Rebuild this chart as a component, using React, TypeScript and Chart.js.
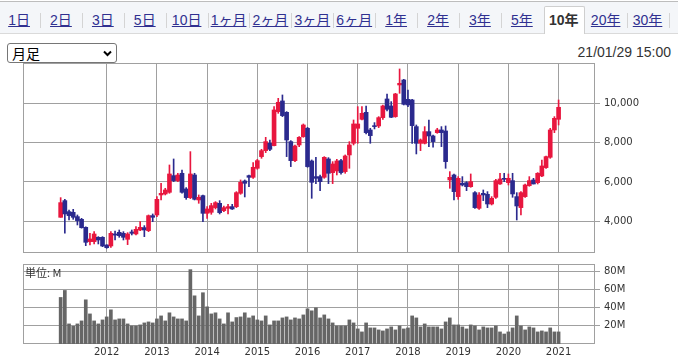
import React, { useEffect, useRef } from 'react';
import { Chart, registerables } from 'chart.js';

Chart.register(...registerables);

// ---- data (monthly candles, Feb 2011 .. Jan 2021) ----
const FIRST_YEAR = 2011;
const FIRST_MONTH = 2;

const opens = [
  4203, 5051, 4491, 4457, 4237, 4101, 3694, 2966, 2966, 3186, 3186, 2796,
  2745, 3355, 3440, 3389, 3084, 3457, 3355, 3559, 3677, 3525, 4288, 4322,
  5339, 5390, 5474, 6322, 6068, 6441, 5644, 5203, 6356, 5084, 5305, 4407,
  4457, 4695, 4915, 4542, 4661, 4745, 4745, 5424, 6051, 6322, 6237, 6695,
  7288, 7593, 7966, 7847, 9576, 10119, 9542, 8051, 7085, 7881, 8305, 8729,
  7068, 6271, 6271, 6237, 7169, 6474, 6559, 7085, 6525, 7373, 7966, 8729,
  9186, 9542, 8644, 8864, 8847, 9271, 10220, 9864, 9322, 10932, 11186, 10203,
  10170, 8814, 7966, 7966, 8559, 8339, 8508, 8644, 8593, 6102, 6356, 5254,
  5932, 5966, 5762, 5457, 4661, 5423, 5373, 4881, 5220, 5898, 6186, 5966,
  6068, 5254, 4695, 5254, 5813, 6102, 5966, 6305, 6729, 7254, 8644, 9186,
];
const highs = [
  5203, 5118, 4576, 4610, 4322, 4152, 3720, 3389, 3474, 3220, 3220, 2810,
  3474, 3508, 3559, 3474, 3423, 3559, 3728, 3982, 3779, 4322, 4373, 5254,
  5932, 5678, 6864, 7169, 6441, 6610, 5712, 7542, 6441, 5339, 5339, 4745,
  4915, 5000, 5051, 4780, 4864, 4864, 5508, 6102, 6102, 6356, 6983, 7153,
  7661, 8271, 8136, 9831, 10254, 10424, 9576, 8102, 7881, 8305, 8949, 8780,
  7119, 7254, 6356, 7288, 7237, 7034, 7152, 7152, 7373, 8051, 9152, 9830,
  9830, 9864, 8729, 9017, 9322, 9915, 10475, 10085, 10508, 11746, 11220, 10678,
  10203, 8898, 8186, 8814, 9152, 8390, 8729, 8814, 8847, 6525, 6407, 6271,
  6271, 6017, 6407, 5508, 5457, 5593, 5508, 5254, 6136, 6441, 6441, 6407,
  6441, 5457, 5508, 5898, 6271, 6186, 6475, 7119, 7322, 8729, 9322, 10170,
];
const lows = [
  4203, 3390, 4067, 4101, 3813, 3650, 2762, 2796, 2847, 2847, 2711, 2627,
  2677, 3050, 3186, 3050, 2813, 3305, 3305, 3525, 3220, 3474, 3982, 4237,
  5084, 5339, 5424, 6017, 6017, 5424, 5118, 5152, 5084, 4915, 3983, 4152,
  4356, 4627, 4373, 4491, 4373, 4600, 4695, 5373, 5237, 5763, 6186, 6644,
  7203, 7492, 7593, 7830, 9491, 9322, 7288, 6780, 7034, 7797, 8271, 6746,
  5169, 5915, 5559, 6186, 5915, 5915, 6356, 6390, 6441, 6695, 7881, 7966,
  9152, 8441, 7966, 8695, 8763, 9186, 9610, 9271, 9288, 10508, 9915, 9830,
  7966, 7424, 7593, 7932, 7797, 7763, 8475, 7797, 6695, 5678, 5084, 5118,
  5796, 5559, 5729, 4661, 4610, 5051, 4695, 4830, 5169, 5881, 6017, 5847,
  5220, 4067, 4322, 5220, 5780, 5898, 5898, 6271, 6695, 7203, 8508, 8898,
];
const closes = [
  4949, 4373, 4288, 4203, 4034, 3677, 2932, 3101, 3355, 3050, 2745, 2660,
  3389, 3300, 3271, 3186, 3355, 3389, 3593, 3694, 3559, 4288, 4203, 5118,
  5423, 5593, 6407, 6068, 6356, 5474, 5203, 6407, 5118, 5220, 4406, 4627,
  4797, 4949, 4441, 4695, 4745, 4627, 5457, 5983, 5932, 6237, 6746, 7085,
  7593, 8051, 7661, 9661, 10051, 9373, 8135, 7085, 7830, 8271, 8898, 6780,
  5983, 6186, 6017, 7254, 6441, 6915, 7068, 6475, 7322, 7881, 8949, 8949,
  9491, 8508, 8356, 8814, 9271, 9864, 9695, 9288, 10475, 11017, 9949, 9915,
  8864, 7966, 8136, 8559, 8339, 8051, 8644, 8508, 7034, 6237, 5508, 6186,
  5847, 5762, 6017, 4695, 5339, 5339, 4881, 5169, 6068, 6152, 6136, 6186,
  5390, 4779, 5457, 5847, 6068, 5898, 6441, 6814, 7288, 8644, 9237, 9797,
];
// volume in millions of shares
const volumes = [
  51.2, 58.9, 22.1, 19.5, 22.1, 25.4, 48.6, 33.1, 25.4, 22.1, 26.5, 29.8,
  37.6, 26.5, 27.6, 27.6, 22.1, 19.9, 19.9, 21.0, 23.2, 24.3, 23.2, 27.6,
  30.9, 25.4, 34.3, 29.8, 27.6, 27.6, 25.4, 81.8, 53.0, 30.9, 56.4, 40.9,
  33.1, 34.3, 27.6, 22.1, 34.3, 24.3, 29.1, 29.8, 34.3, 28.7, 30.9, 26.5,
  25.4, 30.9, 21.0, 25.4, 25.4, 28.7, 29.8, 26.5, 28.7, 27.6, 32.0, 38.7,
  36.5, 39.8, 28.7, 32.0, 27.6, 23.2, 19.9, 19.9, 19.9, 26.5, 23.2, 16.6,
  13.3, 23.2, 17.7, 17.7, 15.5, 14.4, 16.6, 18.8, 15.5, 19.9, 16.6, 17.7,
  30.9, 28.7, 18.8, 22.1, 18.8, 18.8, 18.8, 16.6, 24.3, 28.7, 21.0, 21.0,
  18.8, 16.6, 21.0, 19.9, 15.5, 18.8, 17.7, 17.7, 19.9, 13.3, 11.0, 13.3,
  17.7, 30.9, 19.9, 15.5, 18.8, 17.7, 13.3, 14.4, 13.3, 17.7, 13.3, 13.3,
];
const yearLabels = ['2012', '2013', '2014', '2015', '2016', '2017', '2018', '2019', '2020', '2021'];
const priceTicks = [4000, 6000, 8000, 10000];
const volumeTicks = [20, 40, 60, 80];
const tabLabels = ['1日', '2日', '3日', '5日', '10日', '1ヶ月', '2ヶ月', '3ヶ月', '6ヶ月', '1年', '2年', '3年', '5年', '10年', '20年', '30年'];
const ACTIVE_TAB = '10年';
const selectOptions = ['月足', '週足', '日足'];
const timestampText = '21/01/29 15:00';
const unitText = '単位: M';

const PRICE_MIN = 2388;
const PRICE_MAX = 12049;
const VOL_MAX = 88;
const X_MIN = -9;
const X_MAX = 127.7;

// ---- styles ----
const UP = '#e8173f';
const DOWN = '#2b2a8e';
const VOL = '#666666';
const GRID = '#a0a0a0';
const TEXT = '#333333';
const LINK = '#303090';
const AXIS_FONT = { family: 'DejaVu Sans', size: 10 };
const CHEVRON =
  "url(\"data:image/svg+xml;utf8,<svg xmlns='http://www.w3.org/2000/svg' width='9' height='7' viewBox='0 0 9 7'><polyline points='1,1.5 4.5,5 8,1.5' fill='none' stroke='black' stroke-width='2'/></svg>\")";

const janIndex = (year: number) => (year - FIRST_YEAR) * 12 + (1 - FIRST_MONTH);

const framePlugin = {
  id: 'frame',
  beforeDatasetsDraw(chart: any) {
    const { ctx, chartArea } = chart;
    const l = Math.round(chartArea.left);
    const t = Math.round(chartArea.top);
    const r = Math.round(chartArea.right);
    const b = Math.round(chartArea.bottom);
    ctx.save();
    ctx.strokeStyle = GRID;
    ctx.lineWidth = 1;
    ctx.strokeRect(l + 0.5, t + 0.5, r - l - 1, b - t - 1);
    ctx.restore();
  },
};

export default function App() {
  const priceRef = useRef<HTMLCanvasElement>(null);
  const volRef = useRef<HTMLCanvasElement>(null);

  useEffect(() => {
    const janTicks = yearLabels.map((y) => janIndex(Number(y)));
    const candleColors = opens.map((o, i) => (closes[i] >= o ? UP : DOWN));

    const price = new Chart(priceRef.current as HTMLCanvasElement, {
      type: 'bar',
      data: {
        datasets: [
          {
            data: opens.map((_, i) => ({ x: i, y: [lows[i], highs[i]] })) as any,
            backgroundColor: candleColors,
            barThickness: 1,
            maxBarThickness: 1,
            grouped: false,
            borderWidth: 0,
          },
          {
            data: opens.map((o, i) => ({ x: i, y: [o, closes[i]] })) as any,
            backgroundColor: candleColors,
            barThickness: 4,
            maxBarThickness: 4,
            grouped: false,
            borderWidth: 0,
          },
        ],
      },
      options: {
        responsive: false,
        animation: false,
        events: [],
        layout: { padding: { left: 23, right: 0, top: 3, bottom: 7 } },
        plugins: { legend: { display: false }, tooltip: { enabled: false } },
        scales: {
          x: {
            type: 'linear',
            min: X_MIN,
            max: X_MAX,
            offset: false,
            grid: { color: GRID, drawTicks: false, offset: false },
            border: { display: false },
            ticks: { display: false },
            afterBuildTicks: (s: any) => {
              s.ticks = janTicks.map((v) => ({ value: v }));
            },
            afterFit: (s: any) => {
              s.height = 0;
              s.paddingLeft = 0;
              s.paddingRight = 0;
            },
          },
          y: {
            position: 'right',
            min: PRICE_MIN,
            max: PRICE_MAX,
            grid: { color: GRID, drawTicks: true, tickLength: 5 },
            border: { display: false },
            ticks: {
              padding: 4,
              color: TEXT,
              font: AXIS_FONT,
              callback: (v: any) => Number(v).toLocaleString('en-US'),
            },
            afterBuildTicks: (s: any) => {
              s.ticks = priceTicks.map((v) => ({ value: v }));
            },
            afterFit: (s: any) => {
              s.width = 83;
              s.paddingTop = 0;
              s.paddingBottom = 0;
            },
          },
        },
      } as any,
      plugins: [framePlugin],
    });

    const vol = new Chart(volRef.current as HTMLCanvasElement, {
      type: 'bar',
      data: {
        datasets: [
          {
            data: volumes.map((v, i) => ({ x: i, y: v })),
            backgroundColor: VOL,
            barThickness: 3,
            maxBarThickness: 3,
            grouped: false,
            borderWidth: 0,
          },
        ],
      },
      options: {
        responsive: false,
        animation: false,
        events: [],
        layout: { padding: { left: 23, right: 0, top: 6, bottom: 0 } },
        plugins: { legend: { display: false }, tooltip: { enabled: false } },
        scales: {
          x: {
            type: 'linear',
            min: X_MIN,
            max: X_MAX,
            offset: false,
            grid: { color: GRID, drawTicks: false, offset: false },
            border: { display: false },
            ticks: {
              padding: 2,
              color: TEXT,
              font: AXIS_FONT,
              maxRotation: 0,
              autoSkip: false,
              callback: (v: any) => {
                const k = janTicks.indexOf(Number(v));
                return k >= 0 ? yearLabels[k] : '';
              },
            },
            afterBuildTicks: (s: any) => {
              s.ticks = janTicks.map((v) => ({ value: v }));
            },
            afterFit: (s: any) => {
              s.height = 12;
              s.paddingLeft = 0;
              s.paddingRight = 0;
            },
          },
          y: {
            position: 'right',
            min: 0,
            max: VOL_MAX,
            grid: { color: GRID, drawTicks: true, tickLength: 5 },
            border: { display: false },
            ticks: {
              padding: 4,
              color: TEXT,
              font: AXIS_FONT,
              callback: (v: any) => `${v}M`,
            },
            afterBuildTicks: (s: any) => {
              s.ticks = volumeTicks.map((v) => ({ value: v }));
            },
            afterFit: (s: any) => {
              s.width = 83;
              s.paddingTop = 0;
              s.paddingBottom = 0;
            },
          },
        },
      } as any,
      plugins: [framePlugin],
    });

    return () => {
      price.destroy();
      vol.destroy();
    };
  }, []);

  const CELL_W = 41.9;
  const CELL_X0 = -1.9;
  const activeIdx = tabLabels.indexOf(ACTIVE_TAB);
  const sepIdx: number[] = [];
  for (let k = 1; k <= tabLabels.length; k++) {
    if (k !== activeIdx && k !== activeIdx + 1) sepIdx.push(k);
  }

  return (
    <div
      style={{
        position: 'fixed',
        left: 0,
        top: 0,
        width: 678,
        height: 356,
        background: '#ffffff',
        overflow: 'hidden',
        fontFamily: '"Liberation Sans", Arial, "Noto Sans CJK JP", sans-serif',
      }}
    >
      {/* tab bar */}
      <div style={{ position: 'absolute', left: 0, top: 1, width: 678, height: 1, background: '#bdbdbd' }} />
      <div style={{ position: 'absolute', left: 0, top: 2, width: 678, height: 31, background: '#f4f6f9' }} />
      <div style={{ position: 'absolute', left: 0, top: 33, width: 678, height: 1, background: '#dadada' }} />
      <div
        style={{
          position: 'absolute',
          left: Math.round(CELL_X0 + CELL_W * activeIdx) + 1,
          top: 6,
          width: 41,
          height: 28,
          background: '#ffffff',
          border: '1px solid #cfcfcf',
          borderBottom: 'none',
          boxSizing: 'border-box',
          borderRadius: '2px 2px 0 0',
        }}
      />
      {sepIdx.map((k) => (
        <div
          key={'s' + k}
          style={{
            position: 'absolute',
            left: Math.round(CELL_X0 + CELL_W * k),
            top: 13,
            width: 1,
            height: 15,
            background: '#d4d4d4',
          }}
        />
      ))}
      {tabLabels.map((t, k) => (
        <div
          key={t}
          style={{
            position: 'absolute',
            left: CELL_X0 + CELL_W * k,
            top: 5,
            width: CELL_W,
            height: 30,
            lineHeight: '30px',
            textAlign: 'center',
            fontSize: 14,
            whiteSpace: 'nowrap',
            color: k === activeIdx ? TEXT : LINK,
            fontWeight: k === activeIdx ? 'bold' : 'normal',
            textDecoration: k === activeIdx ? 'none' : 'underline',
          }}
        >
          {t}
        </div>
      ))}

      {/* controls row */}
      <select
        defaultValue={selectOptions[0]}
        style={{
          position: 'absolute',
          left: 7,
          top: 43,
          width: 110,
          height: 20,
          fontSize: 14,
          lineHeight: '18px',
          fontFamily: '"Noto Sans CJK JP", sans-serif',
          padding: '0 4px',
          color: '#000',
          backgroundColor: '#fff',
          backgroundImage: CHEVRON,
          backgroundRepeat: 'no-repeat',
          backgroundPosition: '95px 6px',
          border: '1px solid #767676',
          borderRadius: 3,
          boxSizing: 'border-box',
          appearance: 'none',
          WebkitAppearance: 'none',
        }}
      >
        {selectOptions.map((o) => (
          <option key={o} value={o}>
            {o}
          </option>
        ))}
      </select>
      <div
        style={{
          position: 'absolute',
          right: 7,
          top: 44,
          fontSize: 14,
          lineHeight: '16px',
          color: TEXT,
          whiteSpace: 'nowrap',
        }}
      >
        {timestampText}
      </div>

      {/* charts */}
      <canvas
        ref={priceRef}
        width={678}
        height={200}
        style={{ position: 'absolute', left: 0, top: 60, width: 678, height: 200 }}
      />
      <canvas
        ref={volRef}
        width={678}
        height={98}
        style={{ position: 'absolute', left: 0, top: 258, width: 678, height: 98 }}
      />
      <div
        style={{
          position: 'absolute',
          left: 25,
          top: 266,
          fontSize: 11,
          lineHeight: '13px',
          color: TEXT,
          whiteSpace: 'nowrap',
          fontFamily: '"Noto Sans CJK JP", sans-serif',
        }}
      >
        {unitText}
      </div>
    </div>
  );
}
